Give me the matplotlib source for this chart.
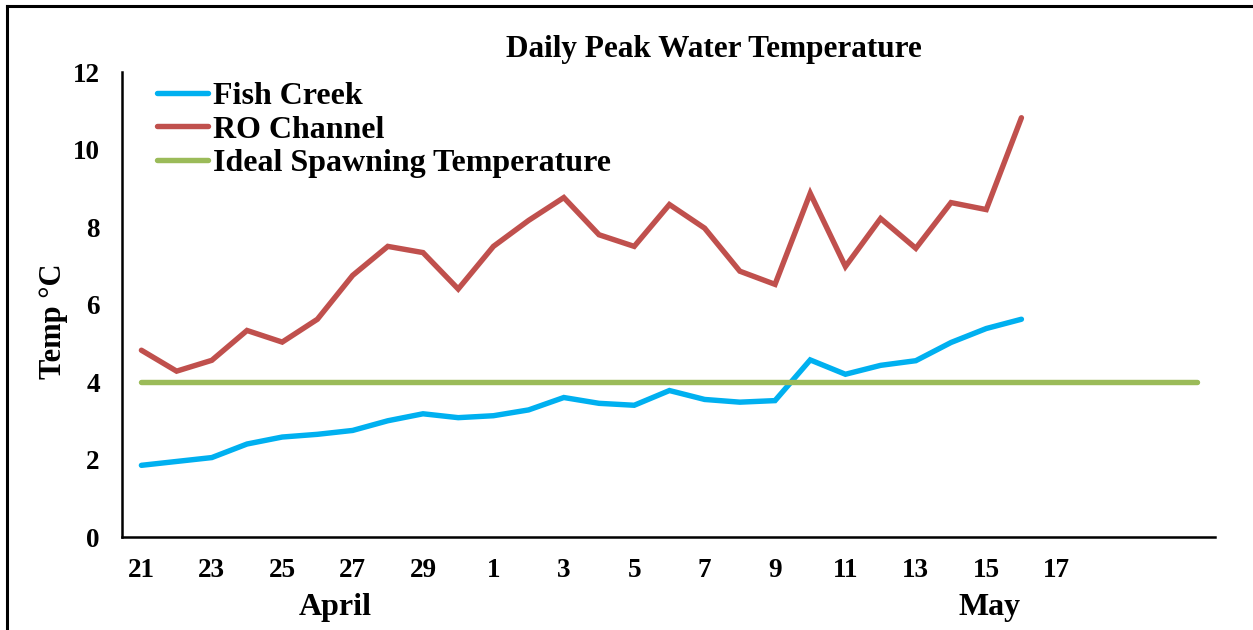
import numpy as np
import matplotlib
matplotlib.use('Agg')
import matplotlib.pyplot as plt
import matplotlib.transforms as mtransforms
from matplotlib.lines import Line2D

plt.rcParams['font.family'] = ['Liberation Serif', 'DejaVu Serif']
plt.rcParams['font.weight'] = 'bold'

# days on the category axis (April 21 .. May 16 with data, then empty slots)
days = ['21', '22', '23', '24', '25', '26', '27', '28', '29', '30',
        '1', '2', '3', '4', '5', '6', '7', '8', '9', '10',
        '11', '12', '13', '14', '15', '16', '17', '18', '19', '20', '21']

fish_creek = [1.85, 1.95, 2.05, 2.4, 2.58, 2.65, 2.75, 3.0, 3.18, 3.08,
              3.13, 3.28, 3.6, 3.45, 3.4, 3.78, 3.55, 3.48, 3.52, 4.57,
              4.2, 4.43, 4.55, 5.02, 5.38, 5.62]
ro_channel = [4.82, 4.28, 4.56, 5.33, 5.03, 5.62, 6.75, 7.5, 7.34, 6.4,
              7.5, 8.17, 8.76, 7.8, 7.5, 8.58, 7.97, 6.86, 6.52, 8.87,
              6.98, 8.22, 7.45, 8.63, 8.45, 10.82]
ideal_temp = [4] * len(days)

months = ['April', 'May']
month_pos = [5.5, 24.1]

x_all = np.arange(len(days))

fig = plt.figure(figsize=(12.53, 6.30), dpi=100)
ax = fig.add_axes([0.0974, 0.1476, 0.8723, 0.7381])

ax.plot(x_all[:len(fish_creek)], fish_creek, color='#00B0F0', lw=3.9,
        solid_capstyle='round', solid_joinstyle='miter', label='Fish Creek')
ax.plot(x_all[:len(ro_channel)], ro_channel, color='#C0504D', lw=3.9,
        solid_capstyle='round', solid_joinstyle='miter', label='RO Channel')
ax.plot(x_all, ideal_temp, color='#9BBB59', lw=3.9,
        solid_capstyle='round', label='Ideal Spawning Temperature')

ax.set_xlim(-0.55, len(days) - 0.5)
ax.set_ylim(0, 12)
ax.set_yticks(range(0, 13, 2))
ax.set_xticks(x_all[:27:2])
ax.set_xticklabels([days[i] for i in range(0, 27, 2)])
ax.tick_params(axis='both', length=0, labelsize=19.5)
ax.tick_params(axis='x', pad=15)
ax.tick_params(axis='y', pad=16)
for lab in ax.get_xticklabels() + ax.get_yticklabels():
    lab.set_fontweight('bold')

for s in ['top', 'right']:
    ax.spines[s].set_visible(False)
for s in ['left', 'bottom']:
    ax.spines[s].set_linewidth(1.8)
    ax.spines[s].set_color('black')

ax.set_ylabel('Temp °C', fontsize=22, fontweight='bold')
ax.yaxis.set_label_coords(-0.049, 0.465)

trans = mtransforms.blended_transform_factory(ax.transData, fig.transFigure)
for m, p in zip(months, month_pos):
    ax.text(p, 1 - 608 / 630, m, transform=trans, ha='center', va='center',
            fontsize=23, fontweight='bold')

fig.text(714 / 1253, 1 - 49 / 630, 'Daily Peak Water Temperature',
         ha='center', va='center', fontsize=22.5, fontweight='bold')

leg = ax.legend(loc='upper left', bbox_to_anchor=(0.02, 1.006), frameon=False,
                prop={'weight': 'bold', 'size': 23}, handlelength=1.6,
                handletextpad=0.15, labelspacing=0.12, borderaxespad=0)

# outer frame of the pasted figure
fig.add_artist(Line2D([7 / 1253, 7 / 1253], [0, 1 - 6 / 630],
                      transform=fig.transFigure, color='black', lw=2.2))
fig.add_artist(Line2D([7 / 1253, 1], [1 - 6 / 630, 1 - 6 / 630],
                      transform=fig.transFigure, color='black', lw=2.2))

fig.savefig('out.png', dpi=100)
